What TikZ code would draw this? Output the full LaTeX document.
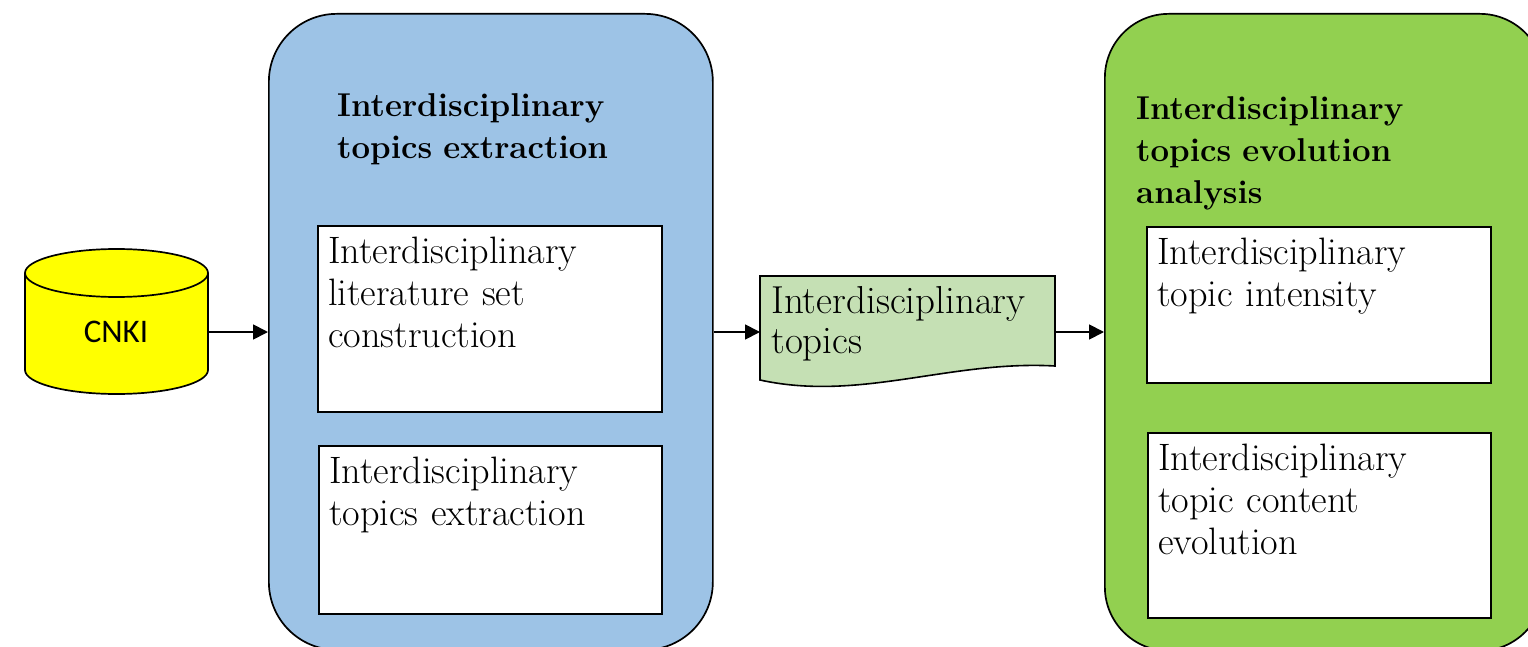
\documentclass[tikz,border=0pt]{standalone}
\usepackage{fontspec}
\newfontfamily\cnkifont{Carlito}
\usetikzlibrary{arrows.meta}
\definecolor{bluebg}{HTML}{9DC3E6}
\definecolor{greenbg}{HTML}{92D050}
\definecolor{docfill}{HTML}{C5E0B4}
\definecolor{cylfill}{HTML}{FFFF00}
\tikzset{
  panel/.style={draw=black, line width=1.7pt, inner sep=0pt, anchor=north west},
  whitebox/.style={draw=black, fill=white, line width=1.6pt, inner sep=0pt, anchor=north west},
  bodytext/.style={inner sep=0pt, anchor=base west, align=left, text width=340pt,
    font=\fontsize{38.2pt}{42pt}\selectfont},
  titletext/.style={inner sep=0pt, anchor=base west, align=left, text width=340pt,
    font=\bfseries\fontsize{33pt}{42pt}\selectfont},
  arr/.style={line width=1.8pt, -{Triangle[length=15pt,width=15pt]}},
}
\begin{document}
\begin{tikzpicture}[x=1pt,y=1pt]
\useasboundingbox (0,0) rectangle (1528,-647);
% panels
\node[panel, fill=bluebg, rounded corners=68pt, minimum width=444pt, minimum height=636pt] (blue) at (268,-13) {};
\node[panel, fill=greenbg, rounded corners=64pt, minimum width=439pt, minimum height=637pt] (green) at (1104,-13) {};
% titles
\node[titletext] (bluetitle) at (337,-117) {Interdisciplinary\\topics extraction};
\node[titletext] (greentitle) at (1136,-120) {Interdisciplinary\\topics evolution\\analysis};
% white boxes
\node[whitebox, minimum width=344pt, minimum height=186pt] (boxa) at (317,-225) {};
\node[whitebox, minimum width=343pt, minimum height=168pt] (boxb) at (318,-445) {};
\node[whitebox, minimum width=344pt, minimum height=156pt] (boxc) at (1146,-226) {};
\node[whitebox, minimum width=343pt, minimum height=185pt] (boxd) at (1147,-432) {};
\node[bodytext] (texta) at (328,-263) {Interdisciplinary\\literature set\\construction};
\node[bodytext] (textb) at (329,-483) {Interdisciplinary\\topics extraction};
\node[bodytext] (textc) at (1157,-264) {Interdisciplinary\\topic intensity};
\node[bodytext] (textd) at (1158,-470) {Interdisciplinary\\topic content\\evolution};
% CNKI cylinder
\fill[cylfill] (25,-273) -- (25,-370) arc[start angle=180, end angle=360, x radius=91.5pt, y radius=24pt]
  -- (208,-273) arc[start angle=0, end angle=180, x radius=91.5pt, y radius=24pt] -- cycle;
\draw[line width=1.7pt] (25,-273) -- (25,-370) arc[start angle=180, end angle=360, x radius=91.5pt, y radius=24pt] -- (208,-273);
\draw[line width=1.7pt] (116.5,-273) ellipse[x radius=91.5pt, y radius=24pt];
\node[inner sep=0pt, minimum width=183pt, minimum height=145pt] (cnki) at (116.5,-321.5) {};
\node[inner sep=0pt, font=\cnkifont\fontsize{33pt}{36pt}\selectfont] (cnkilabel) at (116,-332) {CNKI};
% document shape
\node[inner sep=0pt, minimum width=295pt, minimum height=104pt, anchor=north west] (doc) at (760,-276) {};
\draw[fill=docfill, line width=1.6pt] (760,-276) -- (1055,-276) -- (1055,-366)
  .. controls (950,-360) and (860,-402) .. (760,-380) -- cycle;
\node[bodytext, font=\fontsize{39pt}{40pt}\selectfont] (doctext) at (771,-313) {Interdisciplinary\\topics};
% connectors
\coordinate (row) at (0,-332);
\draw[arr] (cnki.east |- row) -- (blue.west |- row);
\draw[arr] (blue.east |- row) -- (doc.west |- row);
\draw[arr] (doc.east |- row) -- (green.west |- row);
\end{tikzpicture}
\end{document}
